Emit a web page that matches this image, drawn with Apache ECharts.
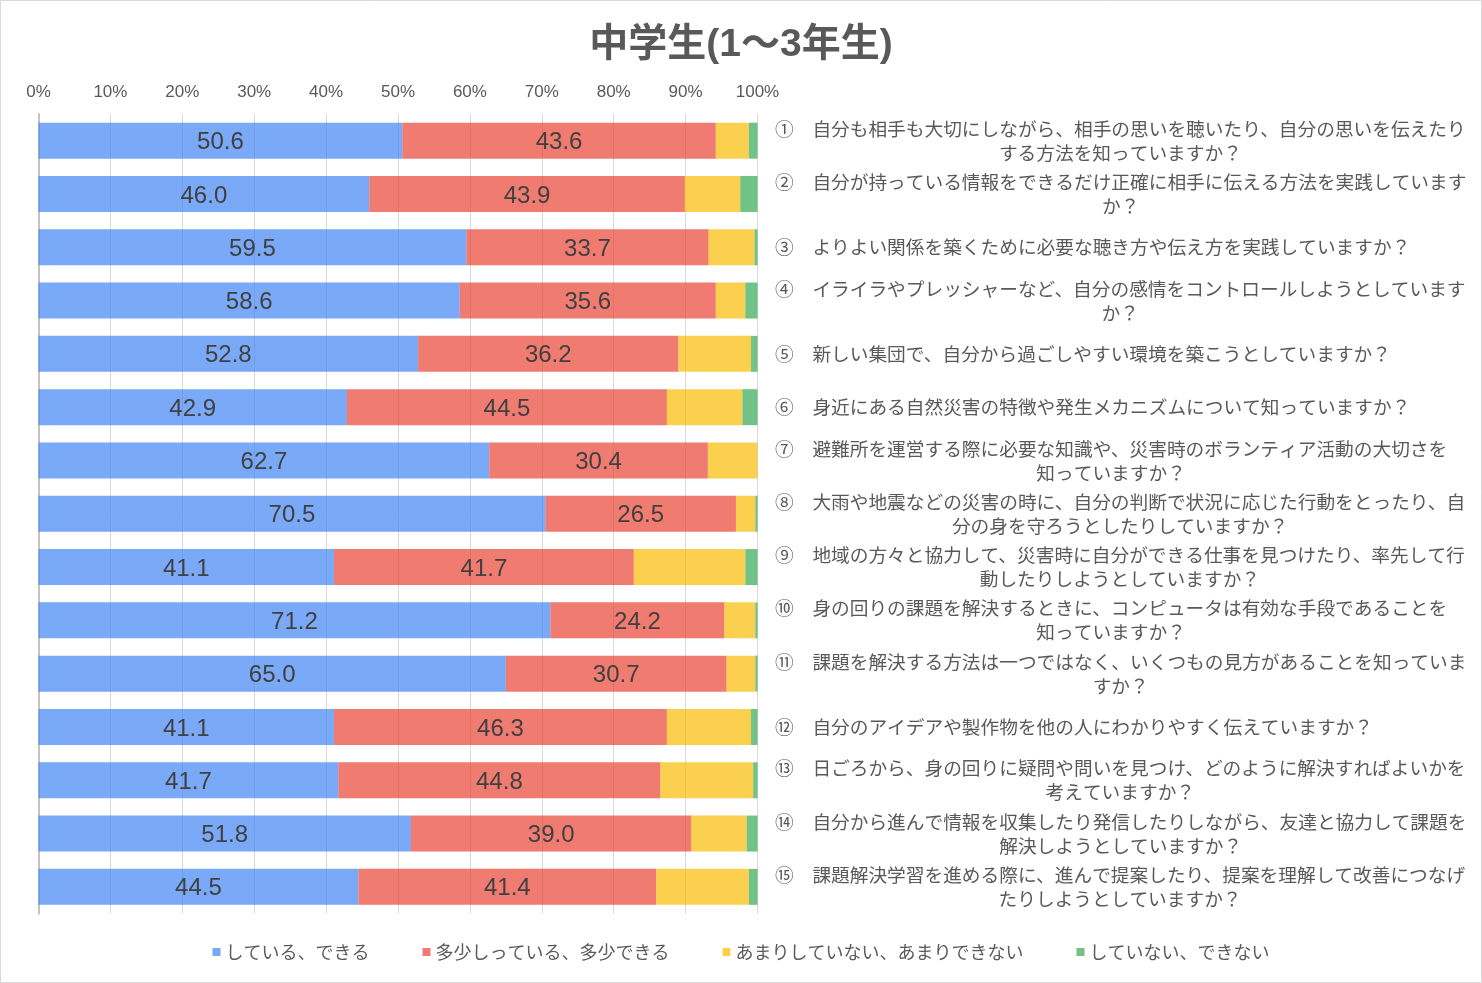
<!DOCTYPE html>
<html>
<head>
<meta charset="utf-8">
<script src="https://cdn.jsdelivr.net/npm/echarts@6/dist/echarts.min.js"></script>
<style>
html,body{margin:0;padding:0;background:#fff;}
#chart{width:1482px;height:983px;}
</style>
</head>
<body>
<div id="chart"></div>
<script>
const titleText = '中学生(1～3年生)';
const categories = [
  '①　自分も相手も大切にしながら、相手の思いを聴いたり、自分の思いを伝えたり\nする方法を知っていますか？',
  '②　自分が持っている情報をできるだけ正確に相手に伝える方法を実践しています\nか？',
  '③　よりよい関係を築くために必要な聴き方や伝え方を実践していますか？',
  '④　イライラやプレッシャーなど、自分の感情をコントロールしようとしています\nか？',
  '⑤　新しい集団で、自分から過ごしやすい環境を築こうとしていますか？',
  '⑥　身近にある自然災害の特徴や発生メカニズムについて知っていますか？',
  '⑦　避難所を運営する際に必要な知識や、災害時のボランティア活動の大切さを\n知っていますか？',
  '⑧　大雨や地震などの災害の時に、自分の判断で状況に応じた行動をとったり、自\n分の身を守ろうとしたりしていますか？',
  '⑨　地域の方々と協力して、災害時に自分ができる仕事を見つけたり、率先して行\n動したりしようとしていますか？',
  '⑩　身の回りの課題を解決するときに、コンピュータは有効な手段であることを\n知っていますか？',
  '⑪　課題を解決する方法は一つではなく、いくつもの見方があることを知っていま\nすか？',
  '⑫　自分のアイデアや製作物を他の人にわかりやすく伝えていますか？',
  '⑬　日ごろから、身の回りに疑問や問いを見つけ、どのように解決すればよいかを\n考えていますか？',
  '⑭　自分から進んで情報を収集したり発信したりしながら、友達と協力して課題を\n解決しようとしていますか？',
  '⑮　課題解決学習を進める際に、進んで提案したり、提案を理解して改善につなげ\nたりしようとしていますか？'
];
const seriesNames = ['している、できる', '多少しっている、多少できる', 'あまりしていない、あまりできない', 'していない、できない'];
const doing = [50.6, 46.0, 59.5, 58.6, 52.8, 42.9, 62.7, 70.5, 41.1, 71.2, 65.0, 41.1, 41.7, 51.8, 44.5];
const somewhat = [43.6, 43.9, 33.7, 35.6, 36.2, 44.5, 30.4, 26.5, 41.7, 24.2, 30.7, 46.3, 44.8, 39.0, 41.4];
const notMuch = [4.6, 7.7, 6.4, 4.1, 10.1, 10.5, 6.9, 2.7, 15.5, 4.3, 4.0, 11.7, 12.9, 7.7, 12.9];
const notAtAll = [1.2, 2.4, 0.4, 1.7, 0.9, 2.1, 0.0, 0.3, 1.7, 0.3, 0.3, 0.9, 0.6, 1.5, 1.2];
const xMin = 0, xMax = 100, xStep = 10;

const colors = ['rgba(66,133,244,0.7)', 'rgba(234,67,53,0.7)', 'rgba(251,188,4,0.7)', 'rgba(52,168,83,0.7)'];
const seriesData = [doing, somewhat, notMuch, notAtAll];
const showLabel = [true, true, false, false];

const jp = '"Noto Sans CJK JP", sans-serif';
const latin = '"Liberation Sans", Arial, "Noto Sans CJK JP", sans-serif';

const chart = echarts.init(document.getElementById('chart'));
chart.setOption({
  animation: false,
  backgroundColor: '#ffffff',
  title: {
    text: titleText,
    left: 'center',
    top: 21,
    textStyle: { fontFamily: latin, fontSize: 39, fontWeight: 'bold', color: '#595959' }
  },
  legend: {
    bottom: 17,
    left: 'center',
    itemWidth: 8,
    itemHeight: 8,
    itemGap: 53,
    icon: 'rect',
    textStyle: { fontFamily: jp, fontSize: 18, color: '#595959' },
    data: seriesNames.map((n, i) => ({ name: n, itemStyle: { color: colors[i] } }))
  },
  graphic: [{
    type: 'rect', silent: true,
    shape: { x: 0.5, y: 0.5, width: 1481, height: 982 },
    style: { fill: 'none', stroke: '#d9d9d9', lineWidth: 1 }
  }],
  grid: { left: 38.5, right: 724.5, top: 114, bottom: 69.5, containLabel: false },
  xAxis: {
    type: 'value',
    position: 'top',
    min: xMin, max: xMax, interval: xStep,
    axisLine: { show: false },
    axisTick: { show: false },
    axisLabel: { formatter: '{value}%', fontFamily: latin, fontSize: 17, color: '#595959', margin: 13 },
    splitLine: { show: true, lineStyle: { color: '#d9d9d9', width: 1 } }
  },
  yAxis: {
    type: 'category',
    inverse: true,
    data: categories,
    axisTick: { show: false },
    axisLine: { show: true, lineStyle: { color: '#c3c3c3', width: 2 } },
    axisLabel: {
      interval: 0,
      margin: -736.5,
      align: 'left',
      fontFamily: jp,
      fontSize: 18.7,
      lineHeight: 24,
      color: '#595959',
      formatter: v => v.split('\n').map(s => '{c|' + s + '}').join('\n'),
      rich: { c: { align: 'center', fontFamily: jp, fontSize: 18.7, lineHeight: 24, color: '#595959' } }
    }
  },
  series: seriesNames.map((n, i) => ({
    name: n,
    type: 'bar',
    stack: 'total',
    barCategoryGap: '32.5%',
    itemStyle: { color: colors[i] },
    label: {
      show: showLabel[i],
      position: 'inside',
      offset: [0, 2],
      fontFamily: latin,
      fontSize: 24,
      color: '#404040',
      formatter: p => Number(p.value).toFixed(1)
    },
    data: seriesData[i]
  }))
});
</script>
</body>
</html>
